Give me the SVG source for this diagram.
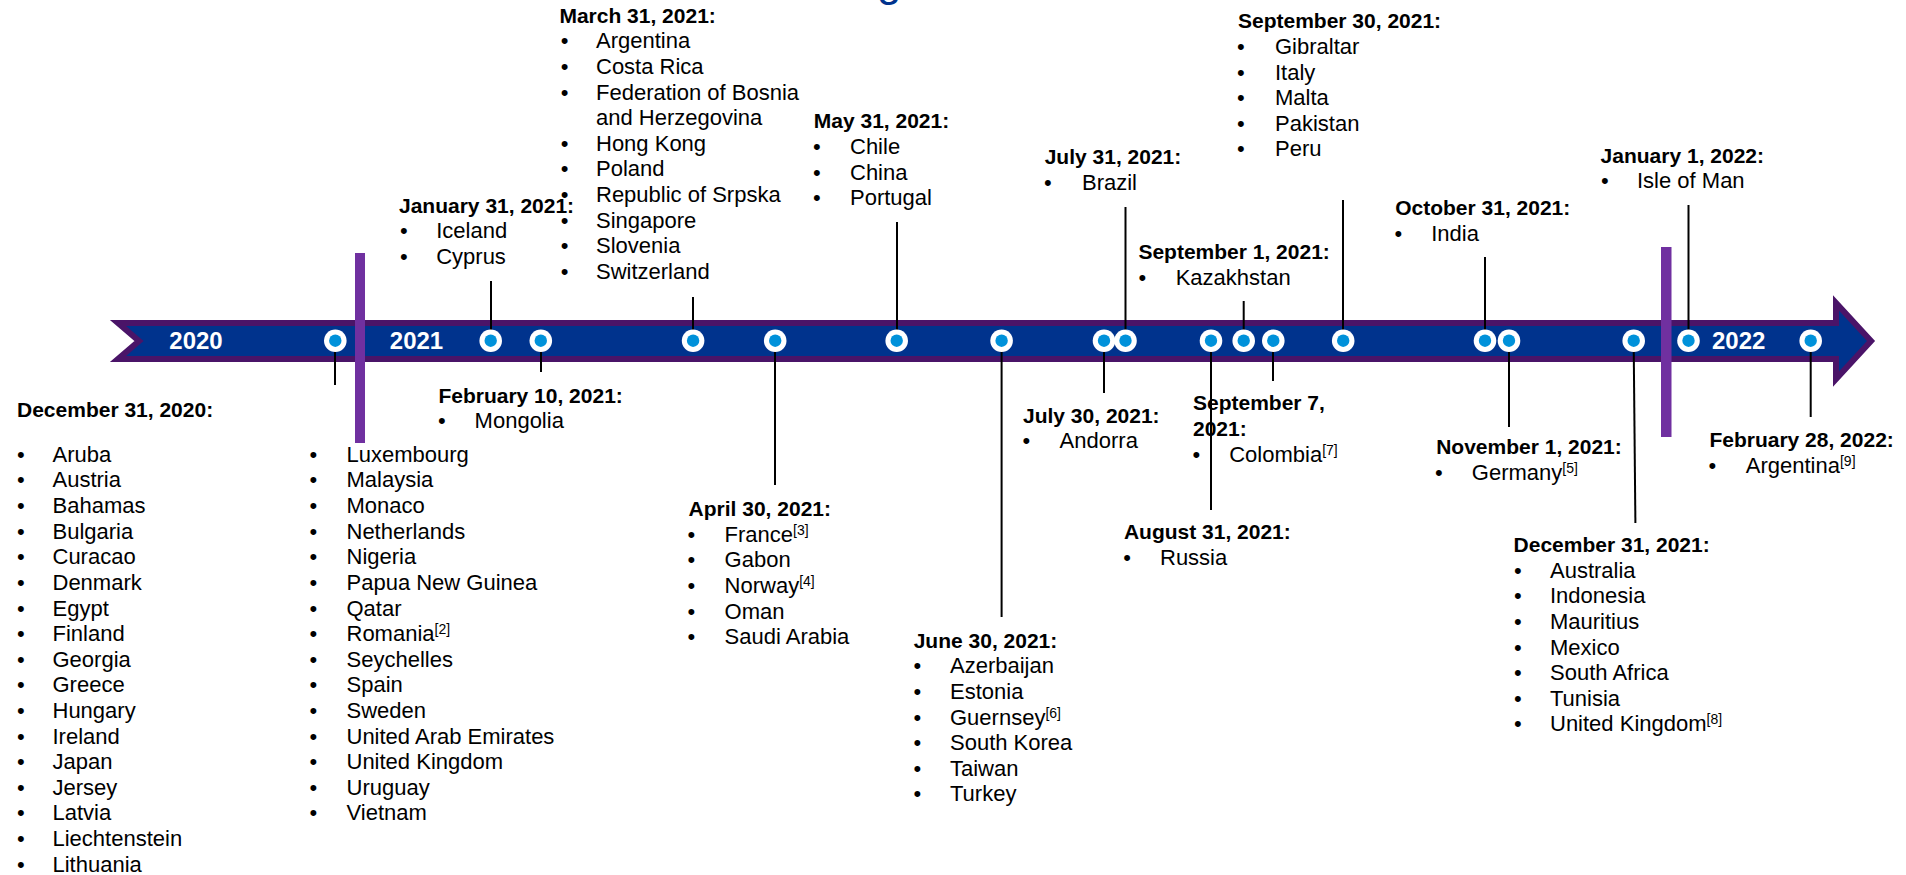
<svg xmlns="http://www.w3.org/2000/svg" width="1906" height="875" viewBox="0 0 1906 875">
<style>
.h{font-family:"Liberation Sans",Arial,sans-serif;font-weight:bold;font-size:21px;fill:#000}
.t{font-family:"Liberation Sans",Arial,sans-serif;font-size:22px;fill:#000}
.s{font-size:14px}
.yr{font-family:"Liberation Sans",Arial,sans-serif;font-weight:bold;font-size:24px;fill:#fff;text-anchor:middle}
.ttl{font-family:"Liberation Sans",Arial,sans-serif;font-size:44px;fill:#00338d}
#connectors line{stroke:#000;stroke-width:2}
.bar{fill:#7030a0}
</style>
<defs>
<g id="dot"><circle r="11.3" fill="#fff"/><circle r="6.2" fill="#0091da"/></g>
</defs>
<rect width="1906" height="875" fill="#fff"/>
<text class="ttl" x="877" y="-4">g</text>
<g id="timeline">
<polygon points="118,323 1836,323 1836,303 1871,341 1836,379 1836,359 118,359 139,341" fill="#00338d" stroke="#4a1468" stroke-width="6" stroke-linejoin="miter"/>
<rect class="bar" x="355" y="253" width="10" height="190"/>
<rect class="bar" x="1661" y="247" width="10.5" height="190"/>
</g>
<g id="connectors">
<line x1="491" y1="281" x2="491" y2="336"/>
<line x1="693" y1="297" x2="693" y2="336"/>
<line x1="897" y1="222" x2="897" y2="336"/>
<line x1="1125.5" y1="207" x2="1125.5" y2="336"/>
<line x1="1243.7" y1="301" x2="1243.7" y2="336"/>
<line x1="1343" y1="200" x2="1343" y2="336"/>
<line x1="1485" y1="257" x2="1485" y2="336"/>
<line x1="1688.5" y1="205" x2="1688.5" y2="336"/>
<line x1="335" y1="346" x2="335" y2="385"/>
<line x1="541" y1="346" x2="541" y2="372"/>
<line x1="775" y1="346" x2="775" y2="485"/>
<line x1="1001.6" y1="346" x2="1001.6" y2="617"/>
<line x1="1104" y1="346" x2="1104" y2="393"/>
<line x1="1211" y1="346" x2="1211" y2="510"/>
<line x1="1273" y1="346" x2="1273" y2="381"/>
<line x1="1509" y1="346" x2="1509" y2="427"/>
<line x1="1633.7" y1="346" x2="1635.4" y2="523"/>
<line x1="1810.7" y1="346" x2="1810.7" y2="417"/>
</g>
<g id="markers">
<use href="#dot" x="335.3" y="340.7"/>
<use href="#dot" x="490.7" y="340.7"/>
<use href="#dot" x="540.8" y="340.7"/>
<use href="#dot" x="693.1" y="340.7"/>
<use href="#dot" x="775.2" y="340.7"/>
<use href="#dot" x="896.7" y="340.7"/>
<use href="#dot" x="1001.6" y="340.7"/>
<use href="#dot" x="1104" y="340.7"/>
<use href="#dot" x="1125.5" y="340.7"/>
<use href="#dot" x="1211" y="340.7"/>
<use href="#dot" x="1243.7" y="340.7"/>
<use href="#dot" x="1273.3" y="340.7"/>
<use href="#dot" x="1343.2" y="340.7"/>
<use href="#dot" x="1485" y="340.7"/>
<use href="#dot" x="1509" y="340.7"/>
<use href="#dot" x="1633.7" y="340.7"/>
<use href="#dot" x="1688.5" y="340.7"/>
<use href="#dot" x="1810.7" y="340.7"/>
</g>
<g id="years">
<text class="yr" x="196" y="349">2020</text>
<text class="yr" x="416.5" y="349">2021</text>
<text class="yr" x="1738.7" y="349">2022</text>
</g>
<g id="n-dec-2020">
<text class="h" x="17" y="416.7">December 31, 2020:</text>
<g class="t">
<text class="t" x="17" y="461.7">•</text><text class="t" x="52.5" y="461.7">Aruba</text>
<text class="t" x="17" y="487.3">•</text><text class="t" x="52.5" y="487.3">Austria</text>
<text class="t" x="17" y="512.9">•</text><text class="t" x="52.5" y="512.9">Bahamas</text>
<text class="t" x="17" y="538.6">•</text><text class="t" x="52.5" y="538.6">Bulgaria</text>
<text class="t" x="17" y="564.2">•</text><text class="t" x="52.5" y="564.2">Curacao</text>
<text class="t" x="17" y="589.8">•</text><text class="t" x="52.5" y="589.8">Denmark</text>
<text class="t" x="17" y="615.5">•</text><text class="t" x="52.5" y="615.5">Egypt</text>
<text class="t" x="17" y="641.1">•</text><text class="t" x="52.5" y="641.1">Finland</text>
<text class="t" x="17" y="666.7">•</text><text class="t" x="52.5" y="666.7">Georgia</text>
<text class="t" x="17" y="692.3">•</text><text class="t" x="52.5" y="692.3">Greece</text>
<text class="t" x="17" y="717.9">•</text><text class="t" x="52.5" y="717.9">Hungary</text>
<text class="t" x="17" y="743.6">•</text><text class="t" x="52.5" y="743.6">Ireland</text>
<text class="t" x="17" y="769.2">•</text><text class="t" x="52.5" y="769.2">Japan</text>
<text class="t" x="17" y="794.8">•</text><text class="t" x="52.5" y="794.8">Jersey</text>
<text class="t" x="17" y="820.4">•</text><text class="t" x="52.5" y="820.4">Latvia</text>
<text class="t" x="17" y="846.1">•</text><text class="t" x="52.5" y="846.1">Liechtenstein</text>
<text class="t" x="17" y="871.7">•</text><text class="t" x="52.5" y="871.7">Lithuania</text>
</g>
<g>
<text class="t" x="309.6" y="461.7">•</text><text class="t" x="346.5" y="461.7">Luxembourg</text>
<text class="t" x="309.6" y="487.3">•</text><text class="t" x="346.5" y="487.3">Malaysia</text>
<text class="t" x="309.6" y="512.9">•</text><text class="t" x="346.5" y="512.9">Monaco</text>
<text class="t" x="309.6" y="538.6">•</text><text class="t" x="346.5" y="538.6">Netherlands</text>
<text class="t" x="309.6" y="564.2">•</text><text class="t" x="346.5" y="564.2">Nigeria</text>
<text class="t" x="309.6" y="589.8">•</text><text class="t" x="346.5" y="589.8">Papua New Guinea</text>
<text class="t" x="309.6" y="615.5">•</text><text class="t" x="346.5" y="615.5">Qatar</text>
<text class="t" x="309.6" y="641.1">•</text><text class="t" x="346.5" y="641.1">Romania<tspan class="s" dy="-7">[2]</tspan></text>
<text class="t" x="309.6" y="666.7">•</text><text class="t" x="346.5" y="666.7">Seychelles</text>
<text class="t" x="309.6" y="692.3">•</text><text class="t" x="346.5" y="692.3">Spain</text>
<text class="t" x="309.6" y="717.9">•</text><text class="t" x="346.5" y="717.9">Sweden</text>
<text class="t" x="309.6" y="743.6">•</text><text class="t" x="346.5" y="743.6">United Arab Emirates</text>
<text class="t" x="309.6" y="769.2">•</text><text class="t" x="346.5" y="769.2">United Kingdom</text>
<text class="t" x="309.6" y="794.8">•</text><text class="t" x="346.5" y="794.8">Uruguay</text>
<text class="t" x="309.6" y="820.4">•</text><text class="t" x="346.5" y="820.4">Vietnam</text>
</g>
</g>
<g id="n-jan-31-2021">
<text class="h" x="399" y="212.7">January 31, 2021:</text>
<text class="t" x="400" y="238.3">•</text><text class="t" x="436.2" y="238.3">Iceland</text>
<text class="t" x="400" y="264">•</text><text class="t" x="436.2" y="264">Cyprus</text>
</g>
<g id="n-feb-10-2021">
<text class="h" x="438.4" y="402.7">February 10, 2021:</text>
<text class="t" x="438.1" y="428.3">•</text><text class="t" x="474.6" y="428.3">Mongolia</text>
</g>
<g id="n-mar-31-2021">
<text class="h" x="559.4" y="22.7">March 31, 2021:</text>
<text class="t" x="560.8" y="48.3">•</text><text class="t" x="596" y="48.3">Argentina</text>
<text class="t" x="560.8" y="73.9">•</text><text class="t" x="596" y="73.9">Costa Rica</text>
<text class="t" x="560.8" y="99.5">•</text><text class="t" x="596" y="99.5">Federation of Bosnia</text>
<text class="t" x="596" y="125.1">and Herzegovina</text>
<text class="t" x="560.8" y="150.7">•</text><text class="t" x="596" y="150.7">Hong Kong</text>
<text class="t" x="560.8" y="176.3">•</text><text class="t" x="596" y="176.3">Poland</text>
<text class="t" x="560.8" y="201.9">•</text><text class="t" x="596" y="201.9">Republic of Srpska</text>
<text class="t" x="560.8" y="227.5">•</text><text class="t" x="596" y="227.5">Singapore</text>
<text class="t" x="560.8" y="253.1">•</text><text class="t" x="596" y="253.1">Slovenia</text>
<text class="t" x="560.8" y="278.7">•</text><text class="t" x="596" y="278.7">Switzerland</text>
</g>
<g id="n-apr-30-2021">
<text class="h" x="688.6" y="516">April 30, 2021:</text>
<text class="t" x="687.6" y="541.7">•</text><text class="t" x="724.6" y="541.7">France<tspan class="s" dy="-7">[3]</tspan></text>
<text class="t" x="687.6" y="567.3">•</text><text class="t" x="724.6" y="567.3">Gabon</text>
<text class="t" x="687.6" y="592.9">•</text><text class="t" x="724.6" y="592.9">Norway<tspan class="s" dy="-7">[4]</tspan></text>
<text class="t" x="687.6" y="618.5">•</text><text class="t" x="724.6" y="618.5">Oman</text>
<text class="t" x="687.6" y="644.1">•</text><text class="t" x="724.6" y="644.1">Saudi Arabia</text>
</g>
<g id="n-may-31-2021">
<text class="h" x="813.8" y="128.3">May 31, 2021:</text>
<text class="t" x="813.1" y="154">•</text><text class="t" x="850" y="154">Chile</text>
<text class="t" x="813.1" y="179.6">•</text><text class="t" x="850" y="179.6">China</text>
<text class="t" x="813.1" y="205.2">•</text><text class="t" x="850" y="205.2">Portugal</text>
</g>
<g id="n-jun-30-2021">
<text class="h" x="913.7" y="647.7">June 30, 2021:</text>
<text class="t" x="913.5" y="673.3">•</text><text class="t" x="950" y="673.3">Azerbaijan</text>
<text class="t" x="913.5" y="698.9">•</text><text class="t" x="950" y="698.9">Estonia</text>
<text class="t" x="913.5" y="724.5">•</text><text class="t" x="950" y="724.5">Guernsey<tspan class="s" dy="-7">[6]</tspan></text>
<text class="t" x="913.5" y="750.1">•</text><text class="t" x="950" y="750.1">South Korea</text>
<text class="t" x="913.5" y="775.7">•</text><text class="t" x="950" y="775.7">Taiwan</text>
<text class="t" x="913.5" y="801.3">•</text><text class="t" x="950" y="801.3">Turkey</text>
</g>
<g id="n-jul-30-2021">
<text class="h" x="1023" y="422.7">July 30, 2021:</text>
<text class="t" x="1022.5" y="447.7">•</text><text class="t" x="1059.6" y="447.7">Andorra</text>
</g>
<g id="n-jul-31-2021">
<text class="h" x="1044.7" y="164.3">July 31, 2021:</text>
<text class="t" x="1044.1" y="190">•</text><text class="t" x="1082" y="190">Brazil</text>
</g>
<g id="n-aug-31-2021">
<text class="h" x="1123.9" y="539.3">August 31, 2021:</text>
<text class="t" x="1123.3" y="565">•</text><text class="t" x="1160" y="565">Russia</text>
</g>
<g id="n-sep-1-2021">
<text class="h" x="1138.4" y="259.3">September 1, 2021:</text>
<text class="t" x="1138.6" y="285">•</text><text class="t" x="1175.7" y="285">Kazakhstan</text>
</g>
<g id="n-sep-7-2021">
<text class="h" x="1193" y="410">September 7,</text>
<text class="h" x="1193" y="436">2021:</text>
<text class="t" x="1192.5" y="461.7">•</text><text class="t" x="1229.2" y="461.7">Colombia<tspan class="s" dy="-7">[7]</tspan></text>
</g>
<g id="n-sep-30-2021">
<text class="h" x="1238" y="28.3">September 30, 2021:</text>
<text class="t" x="1236.9" y="54">•</text><text class="t" x="1275" y="54">Gibraltar</text>
<text class="t" x="1236.9" y="79.6">•</text><text class="t" x="1275" y="79.6">Italy</text>
<text class="t" x="1236.9" y="105.2">•</text><text class="t" x="1275" y="105.2">Malta</text>
<text class="t" x="1236.9" y="130.8">•</text><text class="t" x="1275" y="130.8">Pakistan</text>
<text class="t" x="1236.9" y="156.4">•</text><text class="t" x="1275" y="156.4">Peru</text>
</g>
<g id="n-oct-31-2021">
<text class="h" x="1395.2" y="215">October 31, 2021:</text>
<text class="t" x="1394.6" y="240.7">•</text><text class="t" x="1431.2" y="240.7">India</text>
</g>
<g id="n-nov-1-2021">
<text class="h" x="1436.2" y="454">November 1, 2021:</text>
<text class="t" x="1435.1" y="480">•</text><text class="t" x="1471.8" y="480">Germany<tspan class="s" dy="-7">[5]</tspan></text>
</g>
<g id="n-dec-31-2021">
<text class="h" x="1513.6" y="552.3">December 31, 2021:</text>
<text class="t" x="1513.9" y="577.7">•</text><text class="t" x="1550" y="577.7">Australia</text>
<text class="t" x="1513.9" y="603.3">•</text><text class="t" x="1550" y="603.3">Indonesia</text>
<text class="t" x="1513.9" y="628.9">•</text><text class="t" x="1550" y="628.9">Mauritius</text>
<text class="t" x="1513.9" y="654.5">•</text><text class="t" x="1550" y="654.5">Mexico</text>
<text class="t" x="1513.9" y="680.1">•</text><text class="t" x="1550" y="680.1">South Africa</text>
<text class="t" x="1513.9" y="705.7">•</text><text class="t" x="1550" y="705.7">Tunisia</text>
<text class="t" x="1513.9" y="731.3">•</text><text class="t" x="1550" y="731.3">United Kingdom<tspan class="s" dy="-7">[8]</tspan></text>
</g>
<g id="n-jan-1-2022">
<text class="h" x="1600.6" y="162.7">January 1, 2022:</text>
<text class="t" x="1600.9" y="188.3">•</text><text class="t" x="1637" y="188.3">Isle of Man</text>
</g>
<g id="n-feb-28-2022">
<text class="h" x="1709.4" y="446.7">February 28, 2022:</text>
<text class="t" x="1708.4" y="472.7">•</text><text class="t" x="1745.8" y="472.7">Argentina<tspan class="s" dy="-7">[9]</tspan></text>
</g>
</svg>
